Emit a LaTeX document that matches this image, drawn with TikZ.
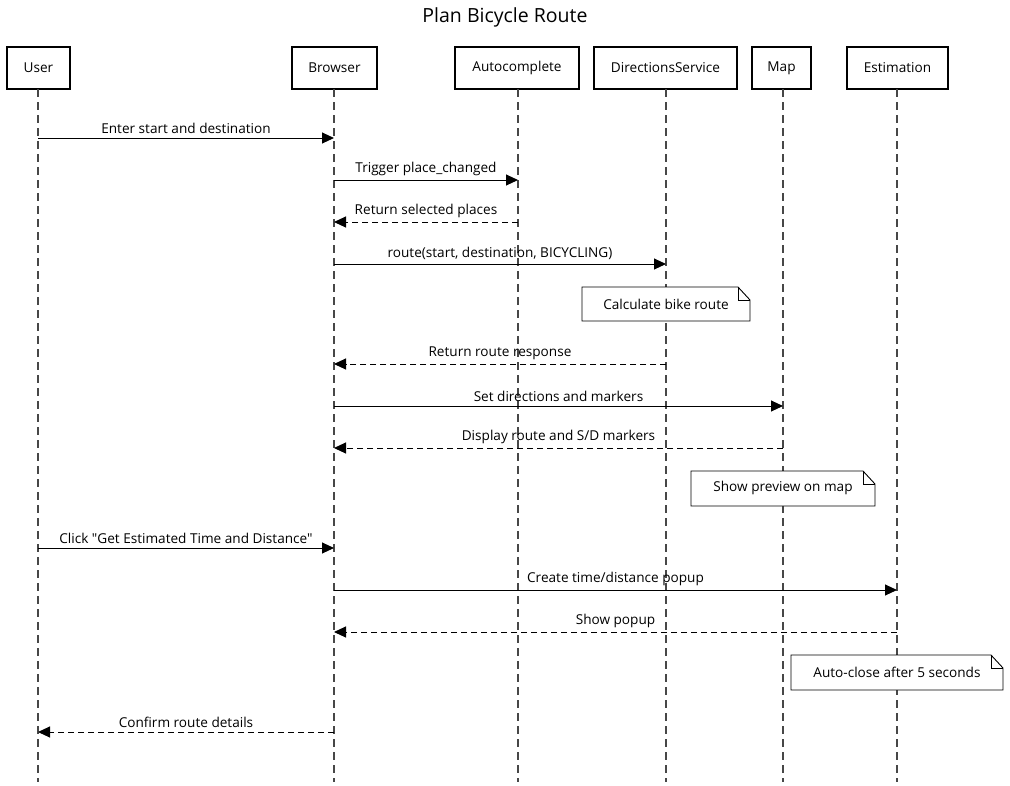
\documentclass[tikz,border=0pt]{standalone}
\usepackage{fontspec}
\setmainfont{Open Sans}[Ligatures=TeXOff]
\usetikzlibrary{arrows.meta}
\tikzset{
  part/.style={draw, line width=1.8pt, minimum height=42pt, inner sep=0pt, font=\fontsize{13.6}{16}\selectfont, fill=white},
  life/.style={draw=black!72, line width=1.1pt, dash pattern=on 8pt off 5pt},
  msg/.style={line width=1pt, -{Triangle[length=12pt,width=11pt]}},
  ret/.style={msg, dash pattern=on 6pt off 4pt},
  lbl/.style={font=\fontsize{13.6}{16}\selectfont, inner sep=0pt},
  notebox/.style={font=\fontsize{13.6}{16}\selectfont, inner sep=0pt}
}
\newcommand{\mynote}[5]{% name, x1, y1, x2, y2
  \fill[white] (#2,#3) -- (#4-12,#3) -- (#4,#3+13) -- (#4,#5) -- (#2,#5) -- cycle;
  \draw[line width=0.9pt] (#2,#3) -- (#4-12,#3) -- (#4,#3+13) -- (#4,#5) -- (#2,#5) -- cycle;
  \draw[line width=0.9pt] (#4-12,#3) -- (#4-12,#3+13) -- (#4,#3+13);
}
\begin{document}
\begin{tikzpicture}[x=1pt,y=-1pt]
\useasboundingbox (0,0) rectangle (1010,785);
\node[font=\fontsize{19.5}{22}\selectfont] (title) at (505,17) {Plan Bicycle Route};
\node[part, minimum width=63pt] (user) at (38.5,68) {User};
\node[part, minimum width=85pt] (browser) at (334.5,68) {Browser};
\node[part, minimum width=124pt] (auto) at (517,68) {Autocomplete};
\node[part, minimum width=143pt] (dir) at (665.5,68) {DirectionsService};
\node[part, minimum width=59pt] (map) at (781.5,68) {Map};
\node[part, minimum width=101pt] (est) at (897.5,68) {Estimation};
% lifeline ends
\foreach \n/\x in {user/38,browser/334,auto/518,dir/666,map/783,est/897}{
  \coordinate (\n-end) at (\x,782);
  \draw[life] (\x,89) -- (\n-end);
}
% message endpoints
\foreach \i/\y in {1/138,2/180,3/222,4/264,6/364,7/406,8/448,10/548,11/590,12/632,14/732}{
  \foreach \n/\x in {user/38,browser/334,auto/518,dir/666,map/783,est/897}{
    \coordinate (\n\i) at (\x,\y);
  }
}
\draw[msg] (user1) -- node[lbl, above=4pt] (l1) {Enter start and destination} (browser1);
\draw[msg] (browser2) -- node[lbl, above=4pt] (l2) {Trigger place\_changed} (auto2);
\draw[ret] (auto3) -- node[lbl, above=4pt] (l3) {Return selected places} (browser3);
\draw[msg] (browser4) -- node[lbl, above=4pt] (l4) {route(start, destination, BICYCLING)} (dir4);
\draw[ret] (dir6) -- node[lbl, above=4pt] (l6) {Return route response} (browser6);
\draw[msg] (browser7) -- node[lbl, above=4pt] (l7) {Set directions and markers} (map7);
\draw[ret] (map8) -- node[lbl, above=4pt] (l8) {Display route and S/D markers} (browser8);
\draw[msg] (user10) -- node[lbl, above=4pt] (l10) {Click "Get Estimated Time and Distance"} (browser10);
\draw[msg] (browser11) -- node[lbl, above=4pt] (l11) {Create time/distance popup} (est11);
\draw[ret] (est12) -- node[lbl, above=4pt] (l12) {Show popup} (browser12);
\draw[ret] (browser14) -- node[lbl, above=4pt] (l14) {Confirm route details} (user14);
% notes
\mynote{n1}{582}{287}{750}{321}
\node[notebox] (n1) at (666,304.5) {Calculate bike route};
\mynote{n2}{691}{471}{875}{506}
\node[notebox] (n2) at (783,488) {Show preview on map};
\mynote{n3}{791}{655}{1003}{690}
\node[notebox] (n3) at (897,672) {Auto-close after 5 seconds};
\end{tikzpicture}
\end{document}
